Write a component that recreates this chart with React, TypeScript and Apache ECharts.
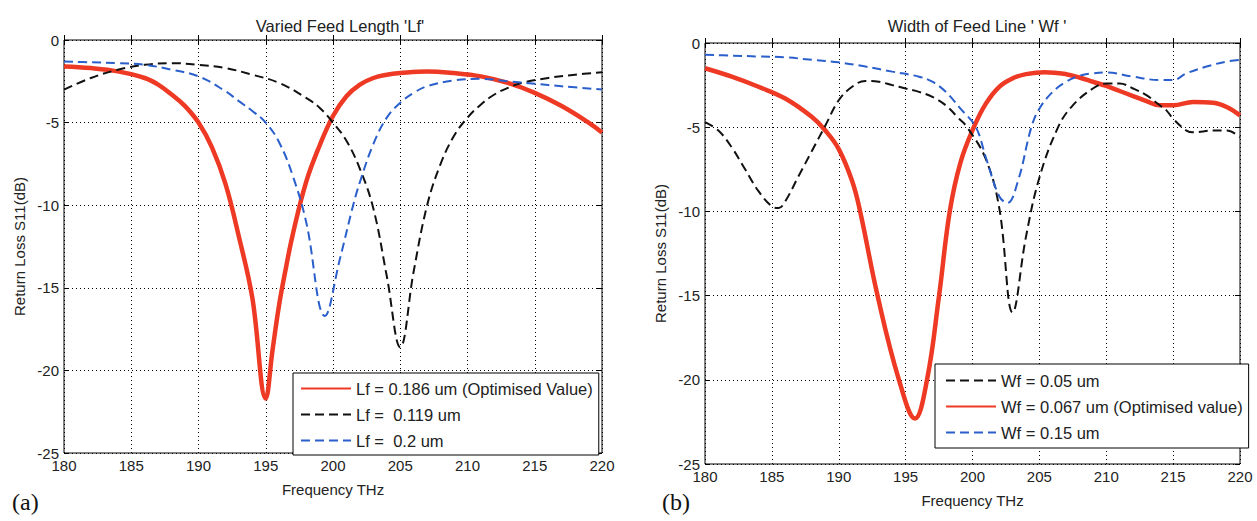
import React, { useEffect, useRef } from "react";
import * as echarts from "echarts";

// ---------- Data (a) Varied Feed Length 'Lf' ----------
const lfOptName = "Lf = 0.186 um (Optimised Value)";
const lfOptFreq = [180, 182, 184, 186, 187, 188, 189, 190, 191, 192, 193, 194, 195, 195.5, 196, 196.5, 197, 198, 199, 200, 201, 202, 203, 204, 205, 207, 209, 211, 213, 215, 217, 219, 220];
const lfOptS11 = [-1.6, -1.7, -1.9, -2.3, -2.7, -3.3, -4.0, -5.0, -6.5, -8.7, -11.9, -15.6, -21.7, -18.8, -16.0, -13.8, -11.8, -8.6, -6.4, -4.6, -3.4, -2.7, -2.3, -2.1, -2.0, -1.9, -2.0, -2.2, -2.6, -3.2, -4.0, -5.0, -5.6];

const lf119Name = "Lf =  0.119 um";
const lf119Freq = [180, 182, 184, 186, 188, 190, 192, 194, 196, 198, 199, 200, 201, 202, 203, 204, 205, 206, 207, 208, 209, 210, 211, 212, 213, 214, 216, 218, 220];
const lf119S11 = [-3.0, -2.3, -1.8, -1.5, -1.4, -1.5, -1.7, -2.1, -2.6, -3.5, -4.1, -5.0, -6.1, -7.8, -10.2, -14.3, -18.6, -14.0, -10.0, -7.5, -5.8, -4.7, -3.9, -3.3, -2.9, -2.6, -2.3, -2.1, -1.95];

const lf2Name = "Lf =  0.2 um";
const lf2Freq = [180, 182, 184, 186, 188, 190, 192, 193, 194, 195, 196, 197, 198, 199.4, 200.5, 201.5, 202, 203, 204, 205, 206, 207, 209, 211, 213, 215, 217, 220];
const lf2S11 = [-1.3, -1.35, -1.4, -1.5, -1.8, -2.2, -3.1, -3.7, -4.3, -5.0, -6.2, -8.2, -11.0, -16.7, -13.3, -10.0, -8.6, -6.3, -4.7, -3.8, -3.2, -2.8, -2.45, -2.35, -2.5, -2.65, -2.8, -3.0];

// ---------- Data (b) Width of Feed Line 'Wf' ----------
const wf05Name = "Wf = 0.05 um";
const wf05Freq = [180, 181, 182, 183, 184, 185, 185.5, 186, 187, 188, 189, 190, 191, 192, 193, 194, 195, 196, 197, 198, 199, 199.6, 201, 202, 203, 204, 205, 206.4, 207.5, 209, 210, 211, 212, 213, 214, 214.5, 215, 216, 216.5, 218, 219, 220];
const wf05S11 = [-4.7, -5.2, -6.2, -7.5, -8.8, -9.7, -9.8, -9.4, -7.9, -6.4, -4.9, -3.4, -2.6, -2.25, -2.3, -2.5, -2.7, -2.9, -3.2, -3.7, -4.5, -5.0, -6.9, -9.8, -16.0, -11.5, -8.0, -5.0, -3.7, -2.7, -2.4, -2.4, -2.7, -3.1, -3.7, -4.0, -4.5, -5.2, -5.3, -5.2, -5.2, -5.6];

const wfOptName = "Wf = 0.067 um (Optimised value)";
const wfOptFreq = [180, 182, 184, 186, 188, 189, 190, 191, 191.6, 192.9, 194.5, 195.7, 196.6, 197.5, 198.3, 199.1, 200.1, 201, 202, 203, 204, 205.4, 207, 208, 209, 210, 211, 212, 213, 214, 215, 216.5, 218, 219, 220];
const wfOptS11 = [-1.5, -2.0, -2.6, -3.3, -4.4, -5.2, -6.3, -8.2, -10.0, -15.0, -20.0, -22.3, -20.0, -15.0, -10.0, -7.1, -5.0, -3.6, -2.6, -2.1, -1.85, -1.73, -1.85, -2.05, -2.3, -2.55, -2.85, -3.15, -3.45, -3.7, -3.7, -3.5, -3.55, -3.8, -4.3];

const wf15Name = "Wf = 0.15 um";
const wf15Freq = [180, 182, 184, 186, 188, 190, 192, 194, 196, 197, 198, 199.1, 200.25, 201, 202, 202.6, 203.4, 204.4, 205, 206, 207, 208, 209, 210, 212, 214, 215, 216, 217.5, 219, 220];
const wf15S11 = [-0.7, -0.75, -0.8, -0.85, -1.0, -1.15, -1.4, -1.7, -2.0, -2.3, -2.9, -3.9, -5.0, -6.8, -9.1, -9.5, -8.2, -5.0, -3.9, -2.9, -2.3, -1.95, -1.8, -1.75, -2.0, -2.2, -2.2, -1.8, -1.4, -1.1, -1.0];

// ---------- Axis / labels ----------
const xMin = 180;
const xMax = 220;
const xStep = 5;
const yMin = -25;
const yMax = 0;
const yStep = 5;
const titleA = "Varied Feed Length 'Lf'";
const titleB = "Width of Feed Line ' Wf '";
const xName = "Frequency THz";
const yName = "Return Loss S11(dB)";

const RED = "#ee3a24";
const BLACK = "#111111";
const BLUE = "#2a5fcc";
const FONT = "'Liberation Sans', Arial, sans-serif";
const TXT = "#222222";

const pairs = (xs: number[], ys: number[]) => xs.map((x, i) => [x, ys[i]]);

function makeAxes(gridIndex: number) {
  const dotted = { show: true, lineStyle: { color: "#000", type: [1, 3] as any, width: 1 } };
  const tick = { show: true, inside: true, length: 5, lineStyle: { color: "#000" } };
  const bottom = {
    type: "value", gridIndex, min: xMin, max: xMax, interval: xStep, position: "bottom",
    name: xName, nameLocation: "middle", nameGap: 29,
    nameTextStyle: { fontFamily: FONT, fontSize: 15, color: TXT },
    axisLine: { show: false }, axisTick: tick,
    axisLabel: { fontFamily: FONT, fontSize: 15, color: TXT, margin: 5 },
    splitLine: dotted,
  };
  const top = {
    type: "value", gridIndex, min: xMin, max: xMax, interval: xStep, position: "top",
    axisLine: { show: false }, axisTick: tick, axisLabel: { show: false }, splitLine: { show: false },
  };
  const left = {
    type: "value", gridIndex, min: yMin, max: yMax, interval: yStep, position: "left",
    name: yName, nameLocation: "middle", nameGap: 37, nameRotate: 90,
    nameTextStyle: { fontFamily: FONT, fontSize: 15, color: TXT },
    axisLine: { show: false }, axisTick: tick,
    axisLabel: { fontFamily: FONT, fontSize: 15, color: TXT, margin: 5 },
    splitLine: dotted,
  };
  const right = {
    type: "value", gridIndex, min: yMin, max: yMax, interval: yStep, position: "right",
    axisLine: { show: false }, axisTick: tick, axisLabel: { show: false }, splitLine: { show: false },
  };
  return { xs: [bottom, top], ys: [left, right] };
}

function lineSeries(name: string, data: number[][], color: string, width: number, dashed: boolean, axisIdx: number, z: number) {
  return {
    type: "line",
    name,
    data,
    xAxisIndex: axisIdx,
    yAxisIndex: axisIdx,
    showSymbol: false,
    symbol: "none",
    smooth: 0.4,
    z,
    lineStyle: { color, width, type: dashed ? [9, 5] : "solid", cap: "butt" },
    itemStyle: { color },
  };
}

export default function App() {
  const ref = useRef<HTMLDivElement>(null);
  useEffect(() => {
    if (!ref.current) return;
    const chart = echarts.init(ref.current, undefined, { renderer: "svg" });
    const a = makeAxes(0);
    const b = makeAxes(1);
    const legendCommon = {
      orient: "vertical",
      backgroundColor: "#fff",
      borderColor: "#000",
      borderWidth: 1,
      borderRadius: 0,
      itemWidth: 50,
      itemHeight: 14,
      itemGap: 9,
      selectedMode: false,
      itemStyle: { opacity: 0 },
      textStyle: { fontFamily: FONT, fontSize: 16.5, color: TXT },
    };
    chart.setOption({
      animation: false,
      backgroundColor: "#fff",
      title: [
        { text: titleA, left: 335, top: 12, textAlign: "center", textStyle: { fontFamily: FONT, fontSize: 16.5, fontWeight: "normal", color: TXT } },
        { text: titleB, left: 972, top: 12, textAlign: "center", textStyle: { fontFamily: FONT, fontSize: 16.5, fontWeight: "normal", color: TXT } },
      ],
      grid: [
        { left: 64, top: 40, width: 538, height: 413, show: true, borderColor: "#000", borderWidth: 1, backgroundColor: "#fff" },
        { left: 705, top: 43, width: 535, height: 421, show: true, borderColor: "#000", borderWidth: 1, backgroundColor: "#fff" },
      ],
      xAxis: [...a.xs, ...b.xs],
      yAxis: [...a.ys, ...b.ys],
      legend: [
        { ...legendCommon, data: [lfOptName, lf119Name, lf2Name], left: 293, top: 373, padding: [7, 6, 6, 7] },
        { ...legendCommon, data: [wf05Name, wfOptName, wf15Name], left: 935, top: 364, padding: [8, 6, 7, 10] },
      ],
      series: [
        lineSeries(lfOptName, pairs(lfOptFreq, lfOptS11), RED, 4.5, false, 0, 3),
        lineSeries(lf119Name, pairs(lf119Freq, lf119S11), BLACK, 2, true, 0, 4),
        lineSeries(lf2Name, pairs(lf2Freq, lf2S11), BLUE, 2, true, 0, 5),
        lineSeries(wf05Name, pairs(wf05Freq, wf05S11), BLACK, 2, true, 2, 4),
        lineSeries(wfOptName, pairs(wfOptFreq, wfOptS11), RED, 4.5, false, 2, 3),
        lineSeries(wf15Name, pairs(wf15Freq, wf15S11), BLUE, 2, true, 2, 5),
      ],
      graphic: [
        { type: "text", left: 12, top: 490, style: { text: "(a)", fontFamily: "'Liberation Serif', 'DejaVu Serif', serif", fontSize: 24, fill: "#111" } },
        { type: "text", left: 662, top: 490, style: { text: "(b)", fontFamily: "'Liberation Serif', 'DejaVu Serif', serif", fontSize: 24, fill: "#111" } },
      ],
    });
    return () => chart.dispose();
  }, []);
  return <div ref={ref} style={{ position: "fixed", left: 0, top: 0, width: 1257, height: 521, background: "#fff" }} />;
}
